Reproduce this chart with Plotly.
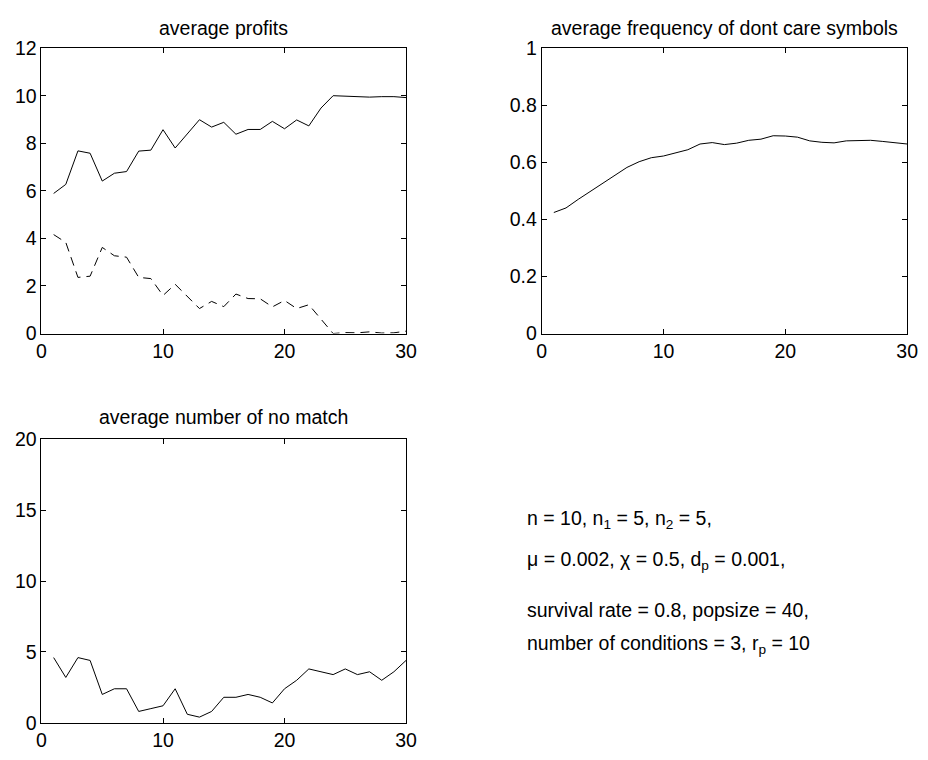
import plotly.graph_objects as go

gen = list(range(1, 31))
profit_best = [5.89, 6.27, 7.68, 7.58, 6.41, 6.74, 6.81, 7.67, 7.71, 8.57,
               7.80, 8.40, 8.99, 8.68, 8.88, 8.38, 8.58, 8.58, 8.92, 8.61,
               8.98, 8.73, 9.48, 10.00, 9.97, 9.96, 9.94, 9.96, 9.96, 9.92]
profit_worst = [4.16, 3.83, 2.36, 2.41, 3.62, 3.27, 3.21, 2.36, 2.31, 1.60,
                2.07, 1.58, 1.05, 1.35, 1.13, 1.66, 1.47, 1.46, 1.12, 1.39,
                1.05, 1.21, 0.60, 0.00, 0.04, 0.03, 0.07, 0.02, 0.03, 0.10]
dontcare = [0.424, 0.440, 0.470, 0.498, 0.525, 0.553, 0.582, 0.602, 0.616, 0.622,
            0.633, 0.644, 0.664, 0.669, 0.662, 0.667, 0.677, 0.681, 0.693, 0.692,
            0.688, 0.675, 0.670, 0.668, 0.675, 0.675, 0.677, 0.673, 0.668, 0.664]
nomatch = [4.6, 3.2, 4.6, 4.4, 2.0, 2.4, 2.4, 0.8, 1.0, 1.2,
           2.4, 0.6, 0.4, 0.8, 1.8, 1.8, 2.0, 1.8, 1.4, 2.4,
           3.0, 3.8, 3.6, 3.4, 3.8, 3.4, 3.6, 3.0, 3.6, 4.4]

titles = ["average profits", "average frequency of dont care symbols",
          "average number of no match"]
param_lines = [
    "n = 10, n<sub>1</sub> = 5, n<sub>2</sub> = 5,",
    "\u03bc = 0.002, \u03c7 = 0.5, d<sub>p</sub> = 0.001,",
    "survival rate = 0.8, popsize = 40,",
    "number of conditions = 3, r<sub>p</sub> = 10",
]

# page body has an 8px default margin: figure is offset by it
OFF = 8
W, H = 928 - OFF, 760 - OFF
FONT = "Liberation Sans, Arial, Helvetica, sans-serif"
FS = 19.5


def fx(x):
    return (x - OFF) / W


def fy(y):
    return 1 - (y - OFF) / H


fig = go.Figure()
line = dict(color="black", width=1)
fig.add_trace(go.Scatter(x=gen, y=profit_best, mode="lines", line=line,
                         xaxis="x", yaxis="y"))
fig.add_trace(go.Scatter(x=gen, y=profit_worst, mode="lines",
                         line=dict(color="black", width=1, dash="9px,6px"),
                         xaxis="x", yaxis="y"))
fig.add_trace(go.Scatter(x=gen, y=dontcare, mode="lines", line=line,
                         xaxis="x2", yaxis="y2"))
fig.add_trace(go.Scatter(x=gen, y=nomatch, mode="lines", line=line,
                         xaxis="x3", yaxis="y3"))

ax = dict(showline=True, linecolor="black", linewidth=1, mirror="allticks",
          ticks="inside", ticklen=5, tickcolor="black", tickwidth=1,
          showgrid=False, zeroline=False,
          tickfont=dict(family=FONT, size=FS, color="black"))

fig.update_layout(
    width=W, height=H, margin=dict(l=0, r=0, t=0, b=0),
    paper_bgcolor="white", plot_bgcolor="white", showlegend=False,
    font=dict(family=FONT, size=FS, color="black"),
    xaxis=dict(ax, domain=[fx(37), fx(408)], range=[0, 30], dtick=10, anchor="y"),
    yaxis=dict(ax, domain=[fy(332), fy(38)], range=[0, 12], dtick=2, anchor="x"),
    xaxis2=dict(ax, domain=[fx(546), fx(918)], range=[0, 30], dtick=10, anchor="y2"),
    yaxis2=dict(ax, domain=[fy(332), fy(38)], range=[0, 1], dtick=0.2, anchor="x2",
                tickformat=".1~f"),
    xaxis3=dict(ax, domain=[fx(37), fx(408)], range=[0, 30], dtick=10, anchor="y3"),
    yaxis3=dict(ax, domain=[fy(733), fy(441)], range=[0, 20], dtick=5, anchor="x3"),
)

anns = []
for t, cx, cy in zip(titles, [(37 + 408) / 2, (546 + 918) / 2, (37 + 408) / 2],
                     [17, 17, 418]):
    anns.append(dict(text=t, x=fx(cx), y=fy(cy), xref="paper", yref="paper",
                     xanchor="center", yanchor="middle", showarrow=False,
                     font=dict(family=FONT, size=FS, color="black")))
for t, top in zip(param_lines, [509, 551, 603, 637]):
    anns.append(dict(text=t, x=fx(529), y=fy(top), xref="paper", yref="paper",
                     xanchor="left", yanchor="top", showarrow=False,
                     font=dict(family=FONT, size=FS, color="black")))
fig.update_layout(annotations=anns)

fig.write_html("out.html")
